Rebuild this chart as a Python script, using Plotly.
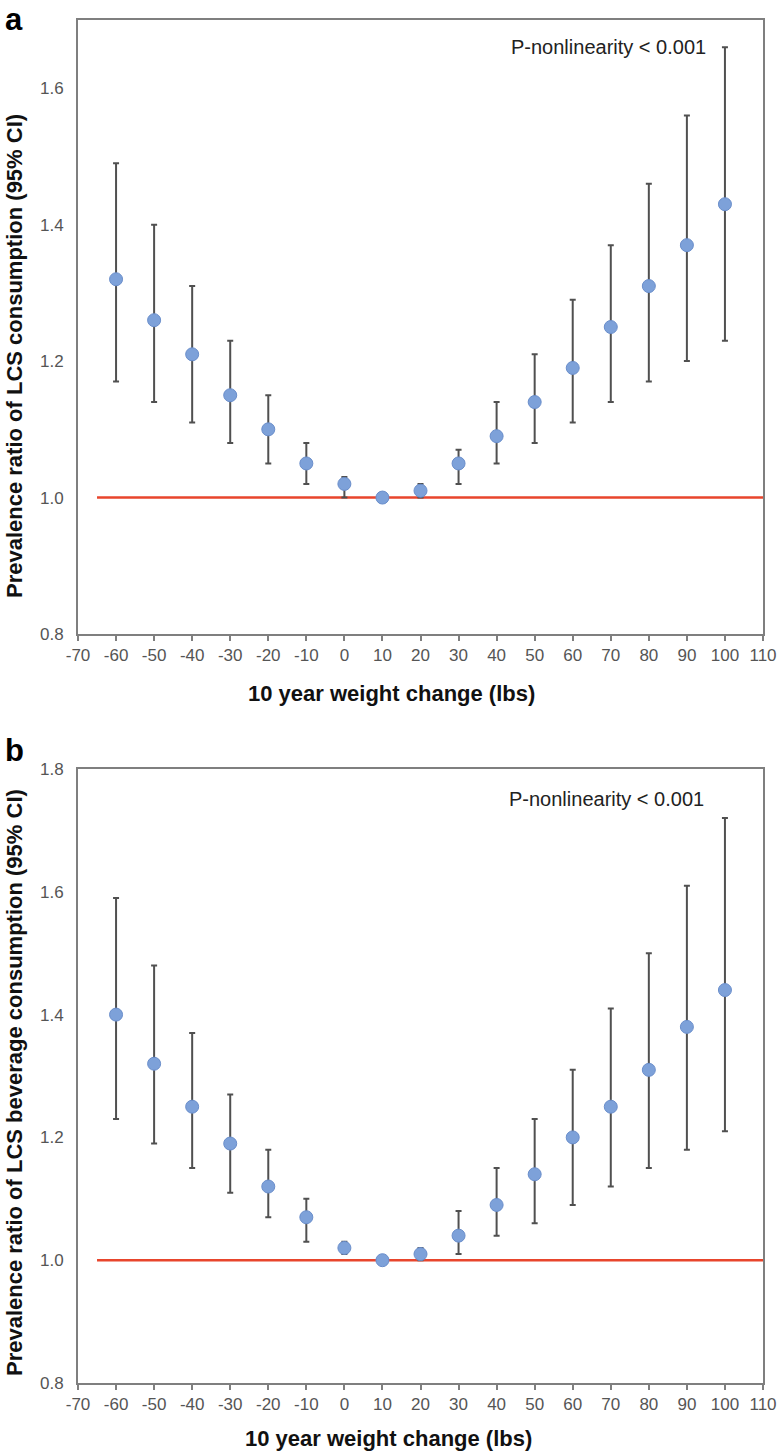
import plotly.graph_objects as go

# ---------------- data ----------------
weight_change = [-60, -50, -40, -30, -20, -10, 0, 10, 20, 30, 40, 50, 60, 70, 80, 90, 100]

# Panel a: LCS consumption
pr_a = [1.32, 1.26, 1.21, 1.15, 1.10, 1.05, 1.02, 1.00, 1.01, 1.05, 1.09, 1.14, 1.19, 1.25, 1.31, 1.37, 1.43]
upper_a = [1.49, 1.40, 1.31, 1.23, 1.15, 1.08, 1.03, 1.00, 1.02, 1.07, 1.14, 1.21, 1.29, 1.37, 1.46, 1.56, 1.66]
lower_a = [1.17, 1.14, 1.11, 1.08, 1.05, 1.02, 1.00, 1.00, 1.00, 1.02, 1.05, 1.08, 1.11, 1.14, 1.17, 1.20, 1.23]

# Panel b: LCS beverage consumption
pr_b = [1.40, 1.32, 1.25, 1.19, 1.12, 1.07, 1.02, 1.00, 1.01, 1.04, 1.09, 1.14, 1.20, 1.25, 1.31, 1.38, 1.44]
upper_b = [1.59, 1.48, 1.37, 1.27, 1.18, 1.10, 1.03, 1.00, 1.02, 1.08, 1.15, 1.23, 1.31, 1.41, 1.50, 1.61, 1.72]
lower_b = [1.23, 1.19, 1.15, 1.11, 1.07, 1.03, 1.01, 1.00, 1.00, 1.01, 1.04, 1.06, 1.09, 1.12, 1.15, 1.18, 1.21]

# reference line (PR = 1)
ref_x = [-65, 110]
ref_value = 1.0

x_ticks = [-70, -60, -50, -40, -30, -20, -10, 0, 10, 20, 30, 40, 50, 60, 70, 80, 90, 100, 110]
x_tick_labels = ["-70", "-60", "-50", "-40", "-30", "-20", "-10", "0", "10", "20",
                 "30", "40", "50", "60", "70", "80", "90", "100", "110"]
y_ticks_a = [0.8, 1.0, 1.2, 1.4, 1.6]
y_ticks_b = [0.8, 1.0, 1.2, 1.4, 1.6, 1.8]

x_title = "10 year weight change (lbs)"
y_title_a = "Prevalence ratio of LCS consumption (95% CI)"
y_title_b = "Prevalence ratio of LCS beverage consumption (95% CI)"
p_text = "P-nonlinearity < 0.001"

# ---------------- styles ----------------
FONT = "Liberation Sans, Arial, sans-serif"
AXIS_COLOR = "#7f7f7f"
TICK_COLOR = "#555555"
MARKER_FILL = "#7da1d9"
MARKER_LINE = "#6a8ecb"
ERR_COLOR = "#505050"
RED = "#e8452c"

fig = go.Figure()


def add_panel(pr, up, lo, xa, ya):
    plus = [u - p for u, p in zip(up, pr)]
    minus = [p - l for p, l in zip(pr, lo)]
    fig.add_trace(go.Scatter(
        x=ref_x, y=[ref_value] * len(ref_x), mode="lines",
        line=dict(color=RED, width=2.5), xaxis=xa, yaxis=ya,
        showlegend=False, hoverinfo="skip"))
    fig.add_trace(go.Scatter(
        x=weight_change, y=pr, mode="markers",
        marker=dict(size=13, color=MARKER_FILL, line=dict(color=MARKER_LINE, width=1)),
        error_y=dict(type="data", symmetric=False, array=plus, arrayminus=minus,
                     color=ERR_COLOR, thickness=2, width=3),
        xaxis=xa, yaxis=ya, showlegend=False))


add_panel(pr_a, upper_a, lower_a, "x", "y")
add_panel(pr_b, upper_b, lower_b, "x2", "y2")

xaxis_common = dict(
    range=[-70, 110], tickmode="array", tickvals=x_ticks, ticktext=x_tick_labels,
    showgrid=False, zeroline=False, showline=True, linecolor=AXIS_COLOR, linewidth=2,
    mirror=True, ticks="outside", ticklen=5, tickwidth=2, tickcolor=AXIS_COLOR,
    tickfont=dict(family=FONT, size=17, color=TICK_COLOR), automargin=False,
)
yaxis_common = dict(
    showgrid=False, zeroline=False, showline=True, linecolor=AXIS_COLOR, linewidth=2,
    mirror=True, ticks="", tickformat=".1f", ticklabelstandoff=9,
    tickfont=dict(family=FONT, size=17, color=TICK_COLOR), automargin=False,
)

H_TOTAL = 1452
M_TOP, M_BOT = 20, 69
plot_h = H_TOTAL - M_TOP - M_BOT

fig.update_layout(
    width=779, height=1452,
    margin=dict(l=78, r=16, t=M_TOP, b=M_BOT, autoexpand=False),
    paper_bgcolor="white", plot_bgcolor="white",
    font=dict(family=FONT),
    xaxis=dict(domain=[0, 1], anchor="y", **xaxis_common),
    yaxis=dict(domain=[(1383 - 634) / plot_h, 1], anchor="x", range=[0.8, 1.7],
               tickvals=y_ticks_a, **yaxis_common),
    xaxis2=dict(domain=[0, 1], anchor="y2", **xaxis_common),
    yaxis2=dict(domain=[0, (1383 - 769) / plot_h], anchor="x2", range=[0.8, 1.8],
                tickvals=y_ticks_b, **yaxis_common),
)

ann = []
for xr, yr, ytxt, xs, ys, ysy, pys, px in [
    ("x domain", "y domain", y_title_a, -29, -59, -29, -27, 0.7745),
    ("x2 domain", "y2 domain", y_title_b, -32, -55, -7, -30, 0.7715),
]:
    # x-axis title
    ann.append(dict(xref=xr, yref=yr, x=0.5, y=0, xshift=xs, yshift=ys,
                    text=f"<b>{x_title}</b>", showarrow=False,
                    xanchor="center", yanchor="middle",
                    font=dict(family=FONT, size=22, color="#111111")))
    # y-axis title
    ann.append(dict(xref=xr, yref=yr, x=0, y=0.5, xshift=-64, yshift=ysy,
                    text=f"<b>{ytxt}</b>", showarrow=False, textangle=-90,
                    xanchor="center", yanchor="middle",
                    font=dict(family=FONT, size=22, color="#111111")))
    # P-nonlinearity text
    ann.append(dict(xref=xr, yref=yr, x=px, y=1, yshift=pys, text=p_text,
                    showarrow=False, xanchor="center", yanchor="middle",
                    font=dict(family=FONT, size=20, color="#222222")))

# panel letters
ann.append(dict(xref="paper", yref="paper", x=0, y=1, xshift=-75, yshift=20,
                text="<b>a</b>", showarrow=False, xanchor="left", yanchor="top",
                font=dict(family=FONT, size=31, color="#000000")))
ann.append(dict(xref="x2 domain", yref="y2 domain", x=0, y=1, xshift=-75, yshift=38,
                text="<b>b</b>", showarrow=False, xanchor="left", yanchor="top",
                font=dict(family=FONT, size=31, color="#000000")))

fig.update_layout(annotations=ann)

fig.write_html(
    "out.html",
    config={"displayModeBar": False},
    post_script="document.body.style.margin='0';document.body.style.padding='0';",
)
